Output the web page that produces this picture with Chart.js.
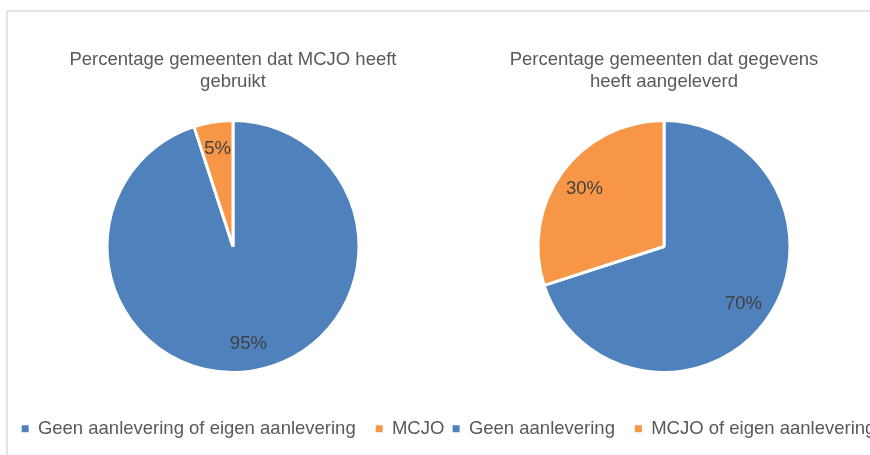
<!DOCTYPE html>
<html>
<head>
<meta charset="utf-8">
<script src="https://cdn.jsdelivr.net/npm/chart.js@4.4.0/dist/chart.umd.min.js"></script>
<style>
	html, body { margin: 0; padding: 0; background: #fff; overflow: hidden; }
	body { width: 870px; height: 455px; position: relative; }
	.frame { position: absolute; left: 6px; top: 10px; width: 900px; height: 500px; border-left: 2px solid #e3e3e3; border-top: 2px solid #e3e3e3; }
	.box { position: absolute; top: 0; height: 455px; }
	#left { left: 0; width: 466px; }
	#right { left: 414px; width: 500px; }
</style>
</head>
<body>
<div class="frame"></div>
<div class="box" id="left"><canvas id="pieLeft"></canvas></div>
<div class="box" id="right"><canvas id="pieRight"></canvas></div>
<script>
"use strict"

const leftTitle = ['Percentage gemeenten dat MCJO heeft', 'gebruikt'];
const leftLabels = ['Geen aanlevering of eigen aanlevering', 'MCJO'];
const leftValues = [95, 5];

const rightTitle = ['Percentage gemeenten dat gegevens', 'heeft aangeleverd'];
const rightLabels = ['Geen aanlevering', 'MCJO of eigen aanlevering'];
const rightValues = [70, 30];

const sliceColors = ['#4f81bd', '#f79646'];
const fontFamily = '"Liberation Sans", Arial, sans-serif';

// percentages in de taartpunten
const pieLabels = {
	id: 'pieLabels',
	afterDatasetsDraw(chart) {
		const ctx = chart.ctx;
		const meta = chart.getDatasetMeta(0);
		const values = chart.data.datasets[0].data;
		ctx.save();
		ctx.font = '18.5px ' + fontFamily;
		ctx.fillStyle = '#404040';
		ctx.textAlign = 'center';
		ctx.textBaseline = 'middle';
		meta.data.forEach((arc, i) => {
			const p = arc.getProps(['x', 'y', 'startAngle', 'endAngle', 'outerRadius'], true);
			const mid = (p.startAngle + p.endAngle) / 2;
			const r = p.outerRadius * 0.78;
			ctx.fillText(values[i] + '%', p.x + Math.cos(mid) * r, p.y + Math.sin(mid) * r);
		});
		ctx.restore();
	}
};

function makePie(id, title, labels, values) {
	return new Chart(
		document.getElementById(id),
		{
			type: 'pie',
			data: {
				labels: labels,
				datasets: [
					{
						data: values,
						backgroundColor: sliceColors,
						borderColor: '#ffffff',
						borderWidth: 3,
					}
				]
			},
			options: {
				responsive: true,
				maintainAspectRatio: false,
				animation: false,
				radius: 126,
				layout: { padding: { top: 37, bottom: 7, left: 0, right: 0 } },
				plugins: {
					title: {
						display: true,
						text: title,
						color: '#595959',
						font: { family: fontFamily, size: 18.5, weight: 'normal', lineHeight: 1.2 },
						padding: { top: 12, bottom: 0 }
					},
					legend: {
						position: 'bottom',
						labels: {
							color: '#595959',
							font: { family: fontFamily, size: 18.5 },
							boxWidth: 7,
							boxHeight: 7,
							padding: 20,
							generateLabels(chart) {
								const items = Chart.overrides.pie.plugins.legend.labels.generateLabels(chart);
								items.forEach(item => { item.lineWidth = 0; });
								return items;
							}
						}
					},
					tooltip: { enabled: false }
				}
			},
			plugins: [pieLabels]
		}
	);
}

makePie('pieLeft', leftTitle, leftLabels, leftValues);
makePie('pieRight', rightTitle, rightLabels, rightValues);
</script>
</body>
</html>
